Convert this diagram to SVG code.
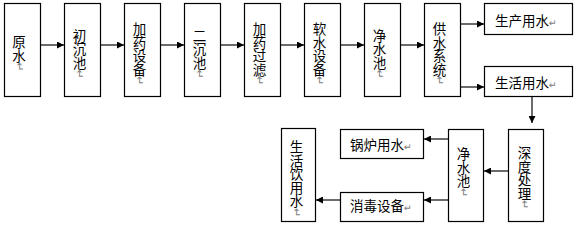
<svg xmlns="http://www.w3.org/2000/svg" width="577" height="232" viewBox="0 0 577 232">
<style>
.box{fill:#fff;stroke:#000;stroke-width:1.2}
.t{font-family:"Noto Sans CJK SC","Liberation Sans",sans-serif;font-size:13.5px;fill:#000}
.vt{writing-mode:vertical-rl;text-orientation:mixed}
.m{font-family:"DejaVu Sans",sans-serif;font-size:9.5px;fill:#808080}
.vt .m{font-size:11px}
.c{stroke:#3a3a3a;stroke-width:1.5;fill:none;marker-end:url(#ah)}
</style>
<defs>
<marker id="ah" viewBox="0 0 10 10" refX="10" refY="5" markerWidth="8" markerHeight="7" markerUnits="userSpaceOnUse" orient="auto">
<path d="M0,0 L10,5 L0,10 Z" fill="#000"/>
</marker>
</defs>
<rect width="577" height="232" fill="#fff"/>

<g id="connectors">
<line class="c" x1="41" y1="45" x2="64" y2="45"/>
<line class="c" x1="101" y1="45" x2="124" y2="45"/>
<line class="c" x1="161" y1="45" x2="184" y2="45"/>
<line class="c" x1="221" y1="45" x2="244" y2="45"/>
<line class="c" x1="281" y1="45" x2="304" y2="45"/>
<line class="c" x1="341" y1="45" x2="364" y2="45"/>
<line class="c" x1="401" y1="45" x2="424" y2="45"/>
<line class="c" x1="461" y1="24" x2="484" y2="24"/>
<line class="c" x1="461" y1="87" x2="484" y2="87"/>
<line class="c" x1="532" y1="97" x2="532" y2="123"/>
<line class="c" x1="508" y1="171" x2="484" y2="171"/>
<line class="c" x1="448" y1="139" x2="424" y2="139"/>
<line class="c" x1="448" y1="200" x2="424" y2="200"/>
<line class="c" x1="340" y1="200" x2="316" y2="200"/>
</g>

<g id="n1">
<rect class="box" x="4.5" y="3.5" width="36" height="93"/>
<text class="t vt" x="19" y="35.4">原水<tspan class="m">↵</tspan></text>
</g>
<g id="n2">
<rect class="box" x="64.5" y="3.5" width="36" height="93"/>
<text class="t vt" x="79.5" y="28.8">初沉池<tspan class="m">↵</tspan></text>
</g>
<g id="n3">
<rect class="box" x="124.5" y="3.5" width="36" height="93"/>
<text class="t vt" x="139.5" y="22.2">加药设备<tspan class="m">↵</tspan></text>
</g>
<g id="n4">
<rect class="box" x="184.5" y="3.5" width="36" height="93"/>
<text class="t vt" x="199.5" y="28.8">二沉池<tspan class="m">↵</tspan></text>
</g>
<g id="n5">
<rect class="box" x="244.5" y="3.5" width="36" height="93"/>
<text class="t vt" x="259.5" y="22.2">加药过滤<tspan class="m">↵</tspan></text>
</g>
<g id="n6">
<rect class="box" x="304.5" y="3.5" width="36" height="93"/>
<text class="t vt" x="319.5" y="22.2">软水设备<tspan class="m">↵</tspan></text>
</g>
<g id="n7">
<rect class="box" x="364.5" y="3.5" width="36" height="93"/>
<text class="t vt" x="379.5" y="28.8">净水池<tspan class="m">↵</tspan></text>
</g>
<g id="n8">
<rect class="box" x="424.5" y="3.5" width="36" height="93"/>
<text class="t vt" x="439.5" y="22.2">供水系统<tspan class="m">↵</tspan></text>
</g>
<g id="n9">
<rect class="box" x="484.5" y="3.5" width="88" height="31"/>
<text class="t" x="495" y="25.5">生产用水<tspan class="m">↵</tspan></text>
</g>
<g id="n10">
<rect class="box" x="484.5" y="66.5" width="88" height="30"/>
<text class="t" x="495" y="88">生活用水<tspan class="m">↵</tspan></text>
</g>
<g id="n11">
<rect class="box" x="508.5" y="129.5" width="35" height="92"/>
<text class="t vt" x="524.5" y="146.3">深度处理<tspan class="m">↵</tspan></text>
</g>
<g id="n12">
<rect class="box" x="448.5" y="129.5" width="35" height="92"/>
<text class="t vt" x="463.5" y="147.3">净水池<tspan class="m">↵</tspan></text>
</g>
<g id="n13">
<rect class="box" x="340.5" y="129.5" width="83" height="29"/>
<text class="t" x="350" y="149.5">锅炉用水<tspan class="m">↵</tspan></text>
</g>
<g id="n14">
<rect class="box" x="340.5" y="192.5" width="83" height="29"/>
<text class="t" x="350" y="210.5">消毒设备<tspan class="m">↵</tspan></text>
</g>
<g id="n15">
<rect class="box" x="281.5" y="128.5" width="34" height="93"/>
<text class="t vt" x="296.5" y="140.3">生活饮用水<tspan class="m">↵</tspan></text>
</g>
</svg>
